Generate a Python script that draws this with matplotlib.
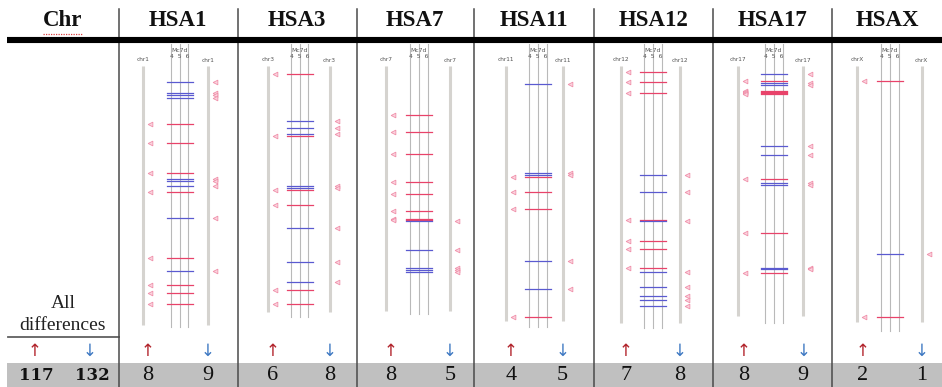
import matplotlib
matplotlib.use("Agg")
import matplotlib.pyplot as plt
from matplotlib.patches import Rectangle

# ---------------- data ----------------
chromosomes = ["HSA1", "HSA3", "HSA7", "HSA11", "HSA12", "HSA17", "HSAX"]
chr_labels = ["chr1", "chr3", "chr7", "chr11", "chr12", "chr17", "chrX"]
up_counts = [8, 6, 8, 4, 7, 8, 2]
down_counts = [9, 8, 5, 5, 8, 9, 1]
total_up = 117
total_down = 132

# positions along the chromosome (0 = top, 100 = bottom), red = up, blue = down
red_hsa1 = [22.8, 30.2, 42.0, 49.6, 75.7, 86.2, 89.3, 93.8]
blue_hsa1 = [6.3, 10.7, 11.5, 12.5, 44.6, 45.3, 47.2, 59.8, 80.7]
red_hsa3 = [3.1, 27.6, 48.9, 54.9, 88.3, 93.8]
blue_hsa3 = [21.5, 24.3, 26.8, 47.4, 48.2, 63.7, 77.0, 84.9]
red_hsa7 = [19.3, 25.9, 34.6, 45.8, 50.5, 57.1, 60.4, 60.8]
blue_hsa7 = [61.0, 72.4, 79.7, 80.3, 81.0]
red_hsa11 = [43.6, 49.7, 56.3, 98.9]
blue_hsa11 = [7.1, 42.3, 42.9, 76.8, 87.9]
red_hsa12 = [2.5, 6.2, 10.5, 60.6, 68.8, 72.2, 79.4]
blue_hsa12 = [42.9, 49.6, 61.2, 81.2, 86.9, 90.6, 92.3, 94.3]
red_hsa17 = [5.9, 10.0, 10.4, 10.8, 11.2, 44.6, 65.6, 81.6]
blue_hsa17 = [3.3, 6.7, 7.5, 31.5, 34.9, 45.9, 46.7, 79.5, 80.1]
red_hsax = [5.9, 98.9]
blue_hsax = [74.1]

red_pos = [red_hsa1, red_hsa3, red_hsa7, red_hsa11, red_hsa12, red_hsa17, red_hsax]
blue_pos = [blue_hsa1, blue_hsa3, blue_hsa7, blue_hsa11, blue_hsa12, blue_hsa17, blue_hsax]

# ---------------- layout (pixels) ----------------
W, H = 942, 387
col_edges = [7, 119, 237.5, 356.5, 474, 594, 713.3, 832.3, 942]
left_bar_off = [24, 30.5, 29.5, 31.7, 26.7, 25, 25]
mid_off = [60.5, 62, 62.5, 64, 59, 60.7, 57.7]
right_bar_off = [89, 92, 93.5, 88.7, 86, 90, 89.4]
bar_bottom = [325, 312, 311, 321, 323, 316, 322]
line_bottom = [327, 317, 314, 327, 328, 323, 331]
BAR_TOP = 66
POS_TOP, POS_SCALE = 66, 2.54

def pos_to_y(p):
    return POS_TOP + p * POS_SCALE

RED = "#e8436a"
BLUE = "#5a5ad0"
TRI_FACE = "#fbd3de"
TRI_EDGE = "#f090aa"
BARC = "#d5d3cf"
LINEC = "#b9b9b9"
UPC = "#b2242c"
DOWNC = "#3d78c2"
SERIF = ["Liberation Serif", "DejaVu Serif"]

fig = plt.figure(figsize=(W / 100, H / 100), dpi=100)
ax = fig.add_axes([0, 0, 1, 1])
ax.set_xlim(0, W)
ax.set_ylim(H, 0)
ax.axis("off")

# bottom gray row
ax.add_patch(Rectangle((7, 363), W - 7, H - 363, facecolor="#c0c0c0", edgecolor="none", zorder=1))

# thick header line
ax.plot([7, W], [40.3, 40.3], color="black", lw=4.4, solid_capstyle="butt", zorder=5)

# column dividers
for x in col_edges[1:-1]:
    ax.plot([x, x], [9, H], color="#4a4a4a", lw=1.1, zorder=4)

# header texts
ax.text(63, 20, "Chr", fontsize=16.5, fontweight="bold", family=SERIF,
        ha="center", va="center", color="#111111")
ax.plot([43, 83], [33.5, 33.5], color="#d84040", lw=0.9, ls=(0, (1, 1)), zorder=3)
for i, name in enumerate(chromosomes):
    cx = (col_edges[i + 1] + col_edges[i + 2]) / 2
    ax.text(cx, 20, name, fontsize=16.5, fontweight="bold", family=SERIF,
            ha="center", va="center", color="#111111")

# left column
ax.text(63, 304, "All", fontsize=14, family=SERIF, ha="center", va="center", color="#222222")
ax.text(63, 326, "differences", fontsize=14, family=SERIF, ha="center", va="center", color="#222222")
ax.plot([8, 119], [337.3, 337.3], color="#606060", lw=1.3)
ax.text(35, 351, "\u2191", fontsize=12, color=UPC, ha="center", va="center", family="DejaVu Sans")
ax.text(90, 351, "\u2193", fontsize=12, color=DOWNC, ha="center", va="center", family="DejaVu Sans")
ax.text(36, 376, str(total_up), fontsize=12, fontweight="bold", family="DejaVu Serif",
        ha="center", va="center", color="#111111", zorder=6)
ax.text(92, 376, str(total_down), fontsize=12, fontweight="bold", family="DejaVu Serif",
        ha="center", va="center", color="#111111", zorder=6)

# panels
for i in range(len(chromosomes)):
    x0 = col_edges[i + 1]
    xl = x0 + left_bar_off[i]
    xm = x0 + mid_off[i]
    xr = x0 + right_bar_off[i]
    # chromosome bars
    ax.plot([xl, xl], [BAR_TOP, bar_bottom[i]], color=BARC, lw=2.2, solid_capstyle="butt", zorder=2)
    ax.plot([xr, xr], [BAR_TOP, bar_bottom[i]], color=BARC, lw=2.2, solid_capstyle="butt", zorder=2)
    # Mc7d lines
    for dx in (-8.7, 0, 8.7):
        ax.plot([xm + dx, xm + dx], [44, line_bottom[i]], color=LINEC, lw=0.8, zorder=2)
    # labels
    ax.text(xl, 59.5, chr_labels[i], fontsize=4.2, ha="center", va="center", color="#555555")
    ax.text(xr, 60.5, chr_labels[i], fontsize=4.2, ha="center", va="center", color="#555555")
    ax.text(xm, 50, "Mc7d", fontsize=4.4, ha="center", va="center", color="#555555", zorder=3)
    ax.text(xm, 57, "4  5  6", fontsize=4.4, ha="center", va="center", color="#555555", zorder=3)
    # marks
    for p in red_pos[i]:
        y = pos_to_y(p)
        ax.plot([xm - 13, xm + 13], [y, y], color=RED, lw=0.9, zorder=3)
        ax.plot(xl + 7, y, marker="<", ms=3.4, mfc=TRI_FACE, mec=TRI_EDGE, mew=0.6, zorder=3)
    for p in blue_pos[i]:
        y = pos_to_y(p)
        ax.plot([xm - 13, xm + 13], [y, y], color=BLUE, lw=0.9, zorder=3)
        ax.plot(xr + 7, y, marker="<", ms=3.4, mfc=TRI_FACE, mec=TRI_EDGE, mew=0.6, zorder=3)
    # arrows and counts
    ax.text(xl + 5, 351, "\u2191", fontsize=12, color=UPC, ha="center", va="center", family="DejaVu Sans")
    ax.text(xr, 351, "\u2193", fontsize=12, color=DOWNC, ha="center", va="center", family="DejaVu Sans")
    ax.text(xl + 5, 376, str(up_counts[i]), fontsize=16, family=SERIF,
            ha="center", va="center", color="#111111", zorder=6)
    ax.text(xr, 376, str(down_counts[i]), fontsize=16, family=SERIF,
            ha="center", va="center", color="#111111", zorder=6)

fig.savefig("out.png", dpi=100)
